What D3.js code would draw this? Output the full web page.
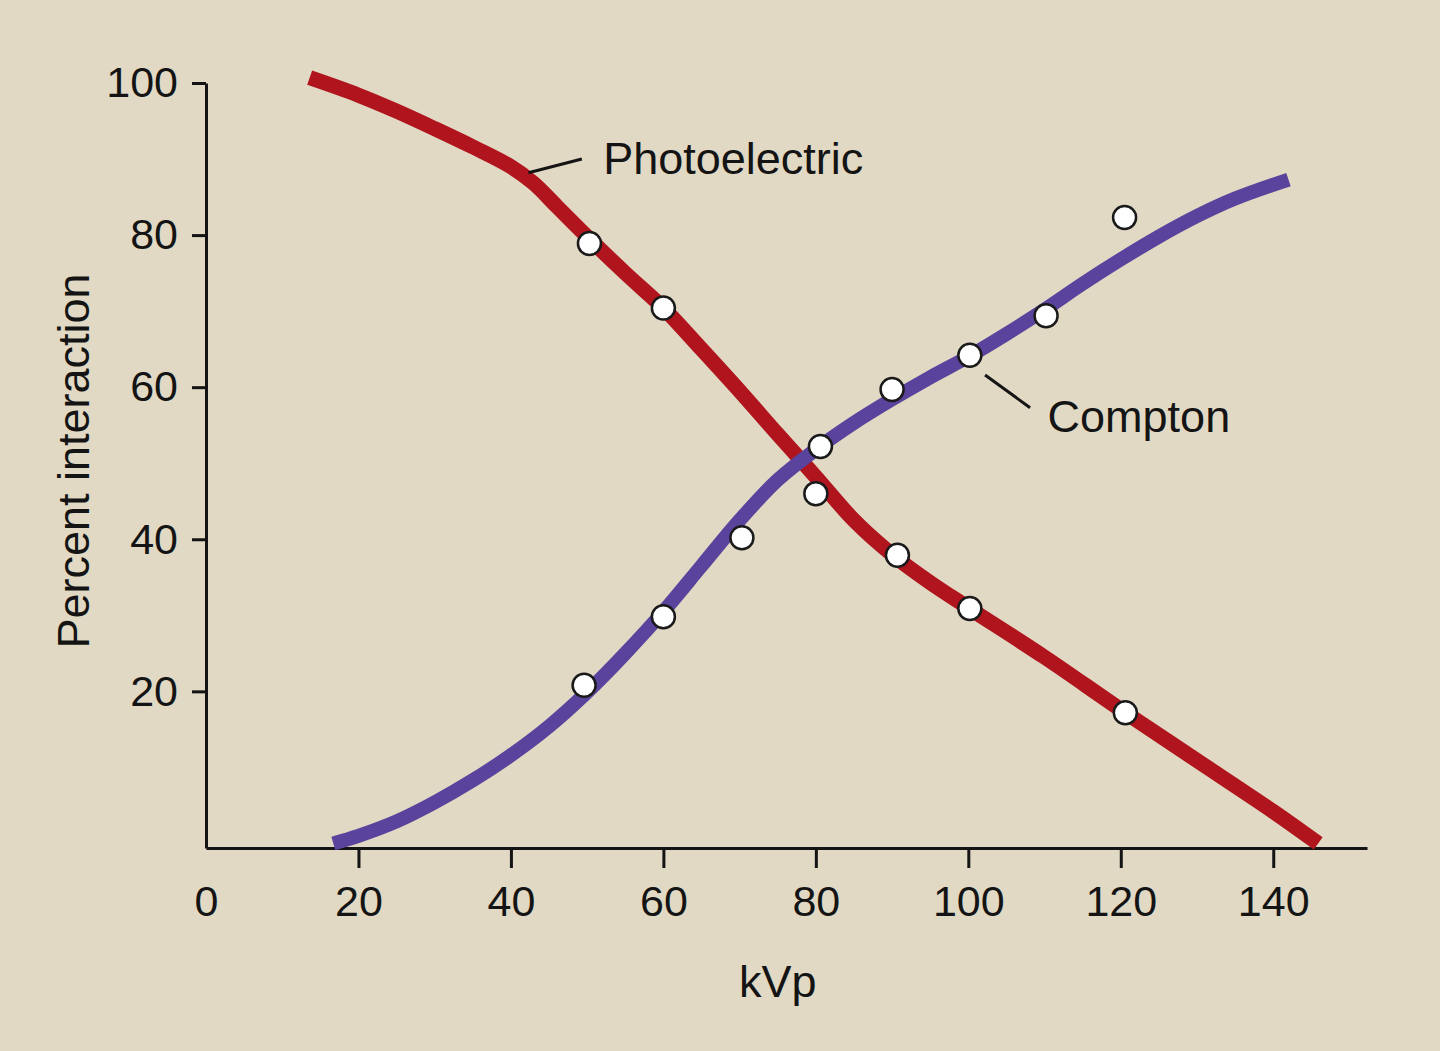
<!DOCTYPE html>
<html>
<head>
<meta charset="utf-8">
<script src="https://cdn.jsdelivr.net/npm/d3@7"></script>
<style>
  html, body { margin: 0; padding: 0; background: #e1d9c4; }
  svg { display: block; }
</style>
</head>
<body>
<svg id="chart"></svg>
<script>
// axis ticks
const kvpTicks = [0, 20, 40, 60, 80, 100, 120, 140]
const pctTicks = [20, 40, 60, 80, 100]

// fitted curves
const photoKvp = [13.6, 20, 25, 30, 35, 40, 43, 46, 50, 55, 60, 65, 70, 75, 80, 85, 90, 95, 100, 110, 120, 130, 140, 145.9]
const photoPct = [100.7, 98.4, 96.3, 94.0, 91.6, 89.0, 86.8, 83.8, 79.8, 75.0, 70.4, 65.0, 59.5, 53.8, 48.2, 42.5, 38.0, 34.3, 31.0, 24.5, 17.6, 10.9, 4.2, 0]

const comptonKvp = [16.7, 20, 25, 30, 35, 40, 45, 50, 55, 60, 65, 70, 75, 80, 85, 90, 95, 100, 105, 110, 115, 120, 125, 130, 135, 142]
const comptonPct = [0, 1.0, 2.9, 5.4, 8.3, 11.6, 15.4, 19.9, 25.0, 30.5, 36.5, 42.5, 47.8, 51.8, 55.3, 58.4, 61.3, 64.0, 67.0, 70.2, 73.6, 76.8, 79.8, 82.5, 84.8, 87.3]

// measured points (open circles)
const photoPointKvp = [50.3, 60.0, 80.0, 90.7, 100.2, 120.6]
const photoPointPct = [78.9, 70.4, 46.0, 37.9, 30.9, 17.2]
const comptonPointKvp = [49.6, 60.0, 70.3, 80.6, 90.0, 100.2, 110.2, 120.5]
const comptonPointPct = [20.8, 29.8, 40.2, 52.2, 59.7, 64.2, 69.4, 82.3]

const width = 1440
const height = 1051
const font = '"Liberation Sans", Arial, Helvetica, sans-serif'

const svg = d3.select('#chart')
  .attr('width', width)
  .attr('height', height)
  .style('background', '#e1d9c4')

const x = d3.scaleLinear().domain([0, 152.3]).range([206, 1367])
const y = d3.scaleLinear().domain([-0.6, 100]).range([848, 83])

const zip = (xs, ys) => xs.map((v, i) => ({ kvp: v, pct: ys[i] }))

// axes
const xAxis = svg.append('g')
  .attr('transform', `translate(0,${y(-0.6)})`)
  .call(d3.axisBottom(x).tickValues(kvpTicks).tickSize(20).tickSizeOuter(0).tickPadding(17))
xAxis.selectAll('.tick').filter(d => d === 0).select('line').remove()

svg.append('g')
  .attr('transform', `translate(${x(0)},0)`)
  .call(d3.axisLeft(y).tickValues(pctTicks).tickSize(14).tickSizeOuter(0).tickPadding(14))

svg.selectAll('.domain, .tick line')
  .attr('stroke', '#141414')
  .attr('stroke-width', 3)
svg.selectAll('.tick text')
  .attr('fill', '#141414')
  .attr('font-family', font)
  .attr('font-size', 43)

// curves
const line = d3.line()
  .x(d => x(d.kvp))
  .y(d => y(d.pct))
  .curve(d3.curveCatmullRom.alpha(0.5))

svg.append('path')
  .datum(zip(photoKvp, photoPct))
  .attr('d', line)
  .attr('fill', 'none')
  .attr('stroke', '#b0141d')
  .attr('stroke-width', 15)
  .attr('stroke-linecap', 'butt')

svg.append('path')
  .datum(zip(comptonKvp, comptonPct))
  .attr('d', line)
  .attr('fill', 'none')
  .attr('stroke', '#5a439c')
  .attr('stroke-width', 14)
  .attr('stroke-linecap', 'butt')

// data points
const points = zip(photoPointKvp, photoPointPct).concat(zip(comptonPointKvp, comptonPointPct))
svg.append('g')
  .selectAll('circle')
  .data(points)
  .join('circle')
  .attr('cx', d => x(d.kvp))
  .attr('cy', d => y(d.pct))
  .attr('r', 11.5)
  .attr('fill', '#fff')
  .attr('stroke', '#1a1a1a')
  .attr('stroke-width', 2.5)

// annotations with leader lines
const notes = [
  { text: 'Photoelectric', from: [42.3, 88.2], to: [49.3, 90.0], at: [52.1, 88.0] },
  { text: 'Compton', from: [102.2, 61.6], to: [108.1, 57.3], at: [110.4, 54.1] }
]
notes.forEach(n => {
  svg.append('line')
    .attr('x1', x(n.from[0])).attr('y1', y(n.from[1]))
    .attr('x2', x(n.to[0])).attr('y2', y(n.to[1]))
    .attr('stroke', '#141414')
    .attr('stroke-width', 3)
  svg.append('text')
    .attr('x', x(n.at[0]))
    .attr('y', y(n.at[1]))
    .attr('font-family', font)
    .attr('font-size', 45)
    .attr('fill', '#141414')
    .text(n.text)
})

// axis titles
svg.append('text')
  .attr('x', x(75))
  .attr('y', 997)
  .attr('text-anchor', 'middle')
  .attr('font-family', font)
  .attr('font-size', 45)
  .attr('fill', '#141414')
  .text('kVp')

svg.append('text')
  .attr('transform', `translate(89,461) rotate(-90)`)
  .attr('text-anchor', 'middle')
  .attr('font-family', font)
  .attr('font-size', 45)
  .attr('fill', '#141414')
  .text('Percent interaction')
</script>
</body>
</html>
